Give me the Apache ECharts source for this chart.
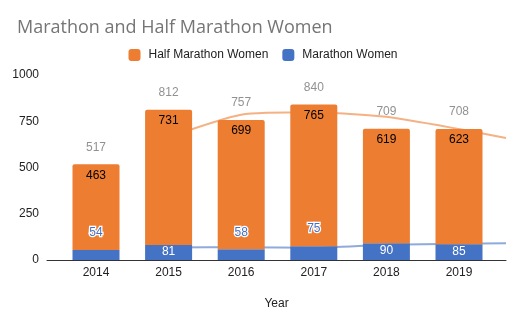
<!DOCTYPE html>
<html><head><meta charset="utf-8">
<script src="https://cdn.jsdelivr.net/npm/echarts@6/dist/echarts.min.js"></script>
<style>html,body{margin:0;padding:0;background:#fff}#c{width:526px;height:325px}</style>
</head><body><div id="c"></div>
<script>
var years = ['2014', '2015', '2016', '2017', '2018', '2019'];
var halfMarathon = [463, 731, 699, 765, 619, 623];
var marathon = [54, 81, 58, 75, 90, 85];
var trendYears = [2015, 2016, 2017, 2018, 2019, 2019.65];
var trendHalf = [664, 785, 798, 774, 708, 659];
var trendMarathon = [67.5, 69.5, 66.5, 82.5, 87.5, 90];

var totals = years.map(function (y, i) { return halfMarathon[i] + marathon[i]; });
var FONT = 'Liberation Sans';
var TOP = 75, BOTTOM = 65;
var chart = echarts.init(document.getElementById('c'));
chart.setOption({
  animation: false,
  textStyle: { fontFamily: FONT },
  title: { text: 'Marathon and Half Marathon Women', left: 12, top: 14,
    textStyle: { fontFamily: 'Open Sans', fontSize: 18, fontWeight: 'normal', color: '#757575' } },
  legend: { top: 44, left: 'center', itemWidth: 12, itemHeight: 12, itemGap: 14,
    data: [{ name: 'Half Marathon Women', icon: 'roundRect' }, { name: 'Marathon Women', icon: 'roundRect' }],
    textStyle: { fontFamily: FONT, fontSize: 12, color: '#222', padding: [0, 0, 0, 3] } },
  grid: [
    { left: 59.7, right: 30.7, top: TOP, bottom: BOTTOM },
    { left: 47, right: 20, top: TOP, bottom: BOTTOM }
  ],
  xAxis: [
    { type: 'category', gridIndex: 0, data: years,
      axisLine: { show: false }, axisTick: { show: false }, splitLine: { show: false },
      axisLabel: { color: '#222', fontSize: 12, margin: 7 } },
    { type: 'value', gridIndex: 1, min: 2013.325, max: 2019.65,
      name: 'Year', nameLocation: 'middle', nameGap: 38,
      nameTextStyle: { fontFamily: FONT, fontSize: 12, color: '#222' },
      axisLine: { lineStyle: { color: '#333', width: 1 } },
      axisTick: { show: false }, splitLine: { show: false }, axisLabel: { show: false } }
  ],
  yAxis: [
    { type: 'value', gridIndex: 0, min: 0, max: 1000, interval: 250,
      axisLine: { show: false }, axisTick: { show: false }, splitLine: { show: false },
      axisLabel: { show: false } },
    { type: 'value', gridIndex: 1, min: 0, max: 1000, interval: 250,
      axisLine: { show: false }, axisTick: { show: false }, splitLine: { show: false },
      axisLabel: { color: '#222', fontSize: 12, margin: 8, formatter: function (v) { return String(v); } } }
  ],
  series: [
    { name: 'Half Marathon Women trend', type: 'line', xAxisIndex: 1, yAxisIndex: 1, z: 1, symbol: 'none', smooth: 0.2,
      lineStyle: { color: 'rgba(237,125,49,0.6)', width: 2 },
      data: trendYears.map(function (x, i) { return [x, trendHalf[i]]; }) },
    { name: 'Marathon Women trend', type: 'line', xAxisIndex: 1, yAxisIndex: 1, z: 1, symbol: 'none', smooth: 0.2,
      lineStyle: { color: 'rgba(68,114,196,0.6)', width: 2 },
      data: trendYears.map(function (x, i) { return [x, trendMarathon[i]]; }) },
    { name: 'Marathon Women', type: 'bar', stack: 'a', barWidth: 47, z: 2,
      itemStyle: { color: '#4472C4' },
      data: marathon.map(function (v) {
        var small = v < 80;
        return { value: v, label: small ?
          { show: true, position: 'top', distance: 11, color: '#4472C4', textBorderColor: '#fff', textBorderWidth: 2.5, fontSize: 12 } :
          { show: true, position: 'insideTop', distance: 1, color: '#fff', fontSize: 12 } };
      }) },
    { name: 'Half Marathon Women', type: 'bar', stack: 'a', barWidth: 47, z: 2,
      itemStyle: { color: '#ED7D31', borderRadius: [2, 2, 0, 0] },
      label: { show: true, position: 'insideTop', distance: 5, color: '#000', fontSize: 12 },
      data: halfMarathon },
    { name: 'Total', type: 'scatter', symbolSize: 0, z: 3, silent: true,
      label: { show: true, position: 'top', distance: 11, color: '#757575', fontSize: 12 },
      data: totals }
  ]
});
</script></body></html>
